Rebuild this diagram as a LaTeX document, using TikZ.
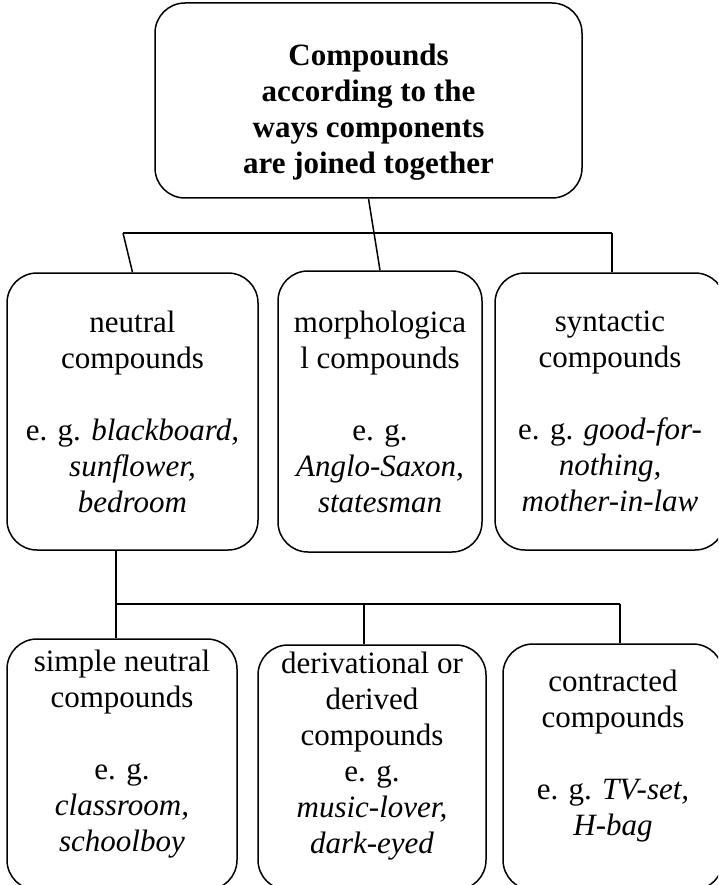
\documentclass[tikz,border=0pt]{standalone}
\usepackage{fontspec}
\setmainfont{Liberation Serif}
\usepackage{xcolor}
\usepackage{tikz}
\usetikzlibrary{positioning, calc}
\definecolor{boxline}{HTML}{000000}

\begin{document}
\begin{tikzpicture}[x=1pt, y=-1pt, line width=1.5pt, draw=boxline,
    box/.style={draw=boxline, rounded corners=30pt, align=center, inner sep=0pt,
      font=\fontsize{31}{36}\selectfont}]
  \clip (0,0) rectangle (718,885);
  % root
  \node[box, font=\fontsize{31}{36}\selectfont\bfseries,
        minimum width=427pt, minimum height=195pt] (top) at (368.5,100.5) {%
    \rule{0pt}{44pt}Compounds\\
    according to the\\
    ways components\\
    are joined together};
  % first level
  \node[box, minimum width=251pt, minimum height=277pt] (neutral) at (132.5,411.5) {%
    neutral\\ compounds\\[36pt]
    e. g. \textit{blackboard,}\\ \textit{sunflower,}\\ \textit{bedroom}};
  \node[box, minimum width=204pt, minimum height=281pt] (morph) at (380,411.5) {%
    morphologica\\ l compounds\\[36pt]
    e. g.\\ \textit{Anglo-Saxon,}\\ \textit{statesman}};
  \node[box, minimum width=230pt, minimum height=277pt] (synt) at (610,411.5) {%
    syntactic\\ compounds\\[36pt]
    e. g. \textit{good-for-}\\ \textit{nothing,}\\ \textit{mother-in-law}};
  % second level
  \node[box, minimum width=230pt, minimum height=251pt] (simple) at (122,764.5) {%
    simple neutral\\ compounds\\[36pt]
    e. g.\\ \textit{classroom,}\\ \textit{schoolboy}\rule[-28pt]{0pt}{28pt}};
  \node[box, minimum width=228pt, minimum height=245pt] (deriv) at (372,767.5) {%
    derivational or\\ derived\\ compounds\\
    e. g.\\ \textit{music-lover,}\\ \textit{dark-eyed}\rule[-30pt]{0pt}{30pt}};
  \node[box, minimum width=220pt, minimum height=246pt] (contr) at (613,767) {%
    contracted\\ compounds\\[36pt]
    e. g. \textit{TV-set,}\\ \textit{H-bag}\rule[-28pt]{0pt}{28pt}};

  % connectors
  \coordinate (busL) at (123,233);
  \coordinate (busR) at (612,233);
  \draw (busL) -- (busR);
  \draw (busL) -- (neutral.north);
  \draw (top.south) -- (morph.north);
  \draw (busR) -- (busR |- synt.north);

  \coordinate (subL) at (116,604);
  \coordinate (subM) at (364,604);
  \coordinate (subR) at (620,604);
  \draw (neutral.south -| subL) -- (simple.north -| subL);
  \draw (subL) -- (subR);
  \draw (subM) -- (subM |- deriv.north);
  \draw (subR) -- (subR |- contr.north);
\end{tikzpicture}
\end{document}
